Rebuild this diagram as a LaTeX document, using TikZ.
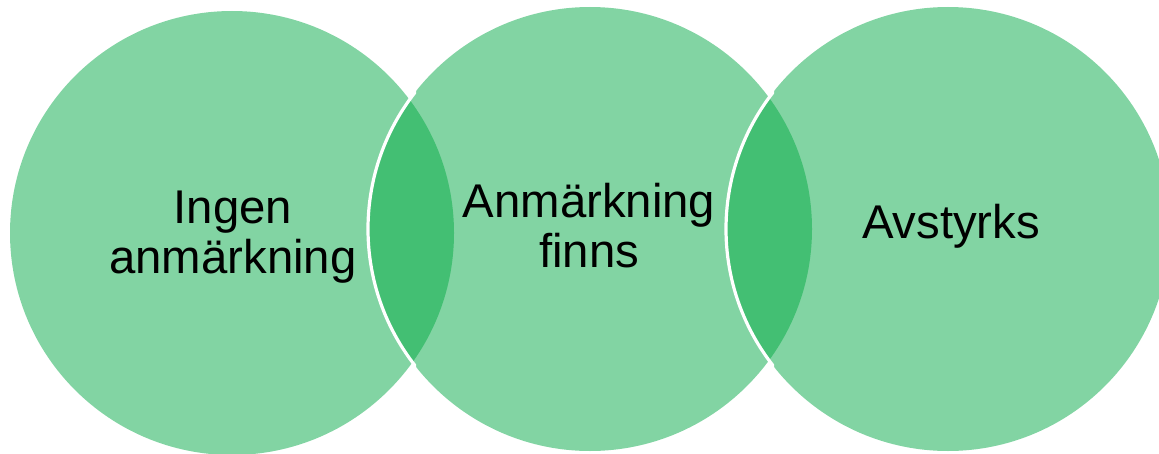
\documentclass[tikz,border=0pt]{standalone}
\usepackage{fontspec}
\setmainfont{Liberation Sans}
\definecolor{vennlight}{HTML}{82D4A3}
\definecolor{venndark}{HTML}{43BF73}
\begin{document}
\begin{tikzpicture}[x=0.75pt,y=-0.75pt,
  lbl/.style={inner sep=0pt, align=center, anchor=base, font=\fontsize{35.5}{37.5}\selectfont},
  ring/.style={draw=white, line width=2.4pt}]
\useasboundingbox (0,0) rectangle (1159,453);
\def\R{222}
\coordinate (c1) at (232,233);
\coordinate (c2) at (590,229);
\coordinate (c3) at (948,229);
% base discs
\fill[vennlight] (c1) circle[radius=\R];
\fill[vennlight] (c2) circle[radius=\R];
\fill[vennlight] (c3) circle[radius=\R];
% overlaps
\begin{scope}
  \clip (c1) circle[radius=\R];
  \fill[venndark] (c2) circle[radius=\R];
\end{scope}
\begin{scope}
  \clip (c2) circle[radius=\R];
  \fill[venndark] (c3) circle[radius=\R];
\end{scope}
% white rims on the left arcs of the overlaps
\begin{scope}
  \clip (330,0) rectangle (416,453);
  \draw[ring] (c2) circle[radius=\R];
\end{scope}
\begin{scope}
  \clip (690,0) rectangle (774,453);
  \draw[ring] (c3) circle[radius=\R];
\end{scope}
% labels (anchor = baseline of last line)
\node[lbl] (t1) at (233,273) {Ingen\\anmärkning};
\node[lbl] (t2) at (589,267) {Anmärkning\\finns};
\node[lbl] (t3) at (951,238) {Avstyrks};
\end{tikzpicture}
\end{document}
